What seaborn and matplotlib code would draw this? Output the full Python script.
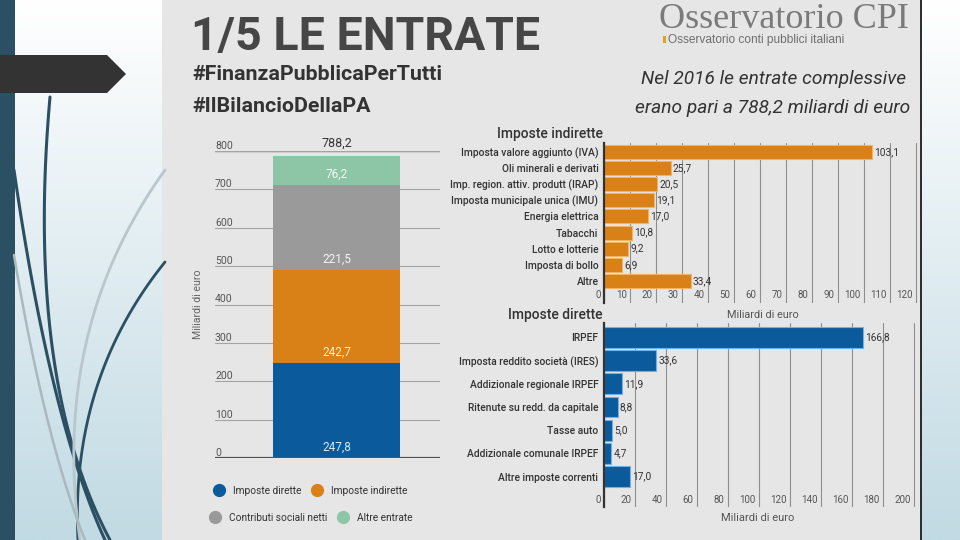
import numpy as np
import pandas as pd
import seaborn as sns
import matplotlib.pyplot as plt
from matplotlib.patches import Rectangle, Polygon
from matplotlib.lines import Line2D
from matplotlib.colors import LinearSegmentedColormap
from matplotlib.transforms import ScaledTranslation

W, H = 960, 540

# entrate 2016, miliardi di euro
stack_labels = ["Imposte dirette", "Imposte indirette", "Contributi sociali netti", "Altre entrate"]
stack_values = [247.8, 242.7, 221.5, 76.2]
stack_colors = ["#0b5b9c", "#d98016", "#9a9a9a", "#8dc6a6"]
stack_text = ["#d5e9fb", "#fff1c4", "#f4f4f4", "#f2fbf5"]
stack_ticks = [0, 100, 200, 300, 400, 500, 600, 700, 800]

ind_labels = ["Imposta valore aggiunto (IVA)", "Oli minerali e derivati",
              "Imp. region. attiv. produtt (IRAP)", "Imposta municipale unica (IMU)",
              "Energia elettrica", "Tabacchi", "Lotto e lotterie", "Imposta di bollo", "Altre"]
ind_values = [103.1, 25.7, 20.5, 19.1, 17.0, 10.8, 9.2, 6.9, 33.4]
ind_ticks = [0, 10, 20, 30, 40, 50, 60, 70, 80, 90, 100, 110, 120]

dir_labels = ["IRPEF", "Imposta reddito società (IRES)", "Addizionale regionale IRPEF",
              "Ritenute su redd. da capitale", "Tasse auto", "Addizionale comunale IRPEF",
              "Altre imposte correnti"]
dir_values = [166.8, 33.6, 11.9, 8.8, 5.0, 4.7, 17.0]
dir_ticks = [0, 20, 40, 60, 80, 100, 120, 140, 160, 180, 200]


def it(v):
    return f"{v:.1f}".replace(".", ",")


def rect(x0, y0, x1, y1):
    return [x0 / W, 1 - y1 / H, (x1 - x0) / W, (y1 - y0) / H]


def bezier(p0, p1, p2, n=80):
    t = np.linspace(0, 1, n)[:, None]
    p0, p1, p2 = map(np.array, (p0, p1, p2))
    pts = (1 - t) ** 2 * p0 + 2 * (1 - t) * t * p1 + t ** 2 * p2
    return pts[:, 0], pts[:, 1]


def hbars(box, labels, values, ticks, xmax, ylim, color, edge, width, tick_pad):
    ax = fig.add_axes(rect(*box))
    ax.set_facecolor("none")
    sns.barplot(x=values, y=labels, orient="h", color=color, saturation=1,
                width=width, edgecolor=edge, linewidth=0.8, errorbar=None, ax=ax)
    ax.set_xlim(0, xmax)
    ax.set_ylim(*ylim)
    ax.set_xticks(ticks)
    ax.set_xticklabels([str(t) for t in ticks])
    ax.set_xlabel("")
    ax.set_ylabel("")
    ax.grid(axis="x", color="#8f8f8f", lw=0.8)
    ax.grid(axis="y", visible=False)
    ax.set_axisbelow(True)
    for s in ["top", "right", "bottom"]:
        ax.spines[s].set_visible(False)
    ax.spines["left"].set_color("#333333")
    ax.spines["left"].set_linewidth(1.6)
    ax.tick_params(axis="x", length=0, pad=tick_pad, labelsize=7, labelcolor="#555555")
    ax.tick_params(axis="y", length=0, pad=4, labelsize=7.4, labelcolor="#333333")
    shift = ScaledTranslation(-2.5 / 72, 0, fig.dpi_scale_trans)
    for lab in ax.get_xticklabels():
        lab.set_ha("right")
        lab.set_va("center")
        lab.set_transform(lab.get_transform() + shift)
    for lab in ax.get_yticklabels():
        lab.set_fontweight("medium")
    ax.bar_label(ax.containers[0], labels=[it(v) for v in values], padding=1.5,
                 fontsize=7.3, color="#333333")
    return ax


sns.set_theme(style="white")
plt.rcParams["font.family"] = ["Roboto", "DejaVu Sans"]

fig = plt.figure(figsize=(9.6, 5.4), dpi=100)

# slide background
bg = fig.add_axes([0, 0, 1, 1])
cmap = LinearSegmentedColormap.from_list("slide", ["#ffffff", "#c1dae3"])
bg.imshow(np.linspace(0, 1, 256).reshape(-1, 1), extent=[0, W, H, 0], cmap=cmap, aspect="auto")
for p0, p1, p2, c, lw in [((50, 97), (25, 380), (110, 540), "#2b4f63", 2.2),
                          ((14, 170), (50, 420), (105, 540), "#2b4f63", 2.2),
                          ((165, 262), (70, 380), (78, 540), "#2b4f63", 2.0),
                          ((165, 170), (50, 330), (80, 540), "#b9c7cc", 2.0),
                          ((14, 255), (45, 440), (85, 540), "#a9b9bf", 1.8)]:
    xs, ys = bezier(p0, p1, p2)
    bg.plot(xs, ys, color=c, lw=lw, solid_capstyle="round")
bg.add_patch(Rectangle((0, 0), 15, H, fc="#2b4f63", ec="none"))
bg.add_patch(Polygon([(0, 55), (107, 55), (126, 74), (107, 93), (0, 93)], fc="#333333", ec="none"))
bg.add_patch(Rectangle((162, 0), 758, H, fc="#e6e6e6", ec="none"))
bg.plot([920.5, 920.5], [0, H], color="#2a2a2a", lw=1.4)
bg.set_xlim(0, W)
bg.set_ylim(H, 0)
bg.axis("off")

# header
bg.text(191, 37, "1/5 LE ENTRATE", fontsize=33.5, fontweight="bold", color="#464646", va="center")
bg.text(192, 75, "#FinanzaPubblicaPerTutti", fontsize=15.4, fontweight="bold", color="#333333", va="center")
bg.text(192, 107, "#IlBilancioDellaPA", fontsize=15.4, fontweight="bold", color="#333333", va="center")
bg.text(909, 19, "Osservatorio CPI", fontsize=26, family="Liberation Serif", color="#7a7a7a",
        ha="right", va="center")
bg.add_patch(Rectangle((663, 36), 2.5, 7, fc="#e3a21a", ec="none"))
bg.text(668, 40, "Osservatorio conti pubblici italiani", fontsize=8.6, family="Liberation Sans",
        color="#6f6f6f", va="center")
bg.text(906, 79, "Nel 2016 le entrate complessive", fontsize=13.8, style="italic",
        color="#333333", ha="right", va="center")
bg.text(910, 108, "erano pari a 788,2 miliardi di euro", fontsize=13.8, style="italic",
        color="#333333", ha="right", va="center")

# stacked column
ax1 = fig.add_axes(rect(215, 151, 440, 458))
ax1.set_facecolor("none")
cum = np.cumsum(stack_values)
bottoms = cum - np.array(stack_values)
for c, col in zip(cum[::-1], stack_colors[::-1]):
    sns.barplot(x=["2016"], y=[c], color=col, saturation=1, width=0.565,
                edgecolor="none", errorbar=None, ax=ax1)
ax1.set_xlim(-0.54, 0.46)
ax1.set_ylim(0, 800)
ax1.set_yticks(stack_ticks)
ax1.set_yticklabels([str(t) for t in stack_ticks])
ax1.tick_params(axis="y", length=0, pad=0, labelsize=7.6, labelcolor="#555555")
for lab in ax1.get_yticklabels():
    lab.set_ha("left")
    lab.set_va("bottom")
ax1.set_xticks([])
ax1.set_xlabel("")
ax1.grid(axis="y", color="#a3a3a3", lw=0.8)
ax1.set_axisbelow(True)
for s in ax1.spines.values():
    s.set_visible(False)
ax1.axhline(0, color="#555555", lw=1.6, zorder=5)
ax1.axhline(800, color="#777777", lw=1.0, zorder=0)
ax1.set_ylabel("Miliardi di euro", fontsize=7.6, color="#666666")
ax1.yaxis.set_label_coords(-12 / 225, 0.5)
for b, v, tc in zip(bottoms, stack_values, stack_text):
    ax1.annotate(it(v), xy=(0, b), xytext=(0, 3), textcoords="offset points",
                 ha="center", va="bottom", fontsize=8.5, color=tc, zorder=6)
ax1.annotate(it(cum[-1]), xy=(0, cum[-1]), xytext=(0, 4), textcoords="offset points",
             ha="center", va="bottom", fontsize=9, color="#333333")

# legend
h = [Line2D([], [], ls="none", marker="o", markersize=8.5, color=c) for c in stack_colors]
kw = dict(frameon=False, ncol=2, fontsize=7.3, handlelength=1.0, handletextpad=0.9,
          columnspacing=1.0, borderpad=0, labelcolor="#333333", loc="center left")
fig.legend(h[:2], stack_labels[:2], bbox_to_anchor=(209 / W, 1 - 491 / H), **kw)
fig.legend(h[2:], stack_labels[2:], bbox_to_anchor=(205 / W, 1 - 518 / H), **kw)

# imposte indirette
hbars((604, 143, 920, 303), ind_labels, ind_values, ind_ticks, 121.5, (9.36, -0.54),
      "#d98016", "#f0b469", 0.87, -5.8)
bg.text(603, 134, "Imposte indirette", fontsize=10, fontweight="medium", color="#333333",
        ha="right", va="center")
bg.text(763, 315, "Miliardi di euro", fontsize=7.8, color="#555555", ha="center", va="center")

# imposte dirette
hbars((604, 323, 919, 507), dir_labels, dir_values, dir_ticks, 203.2, (7.31, -0.62),
      "#0b5b9c", "#6fb0e6", 0.89, -5.0)
bg.text(603, 315, "Imposte dirette", fontsize=10, fontweight="medium", color="#333333",
        ha="right", va="center")
bg.text(758, 518, "Miliardi di euro", fontsize=8, color="#555555", ha="center", va="center")

fig.savefig("out.png", dpi=100)
